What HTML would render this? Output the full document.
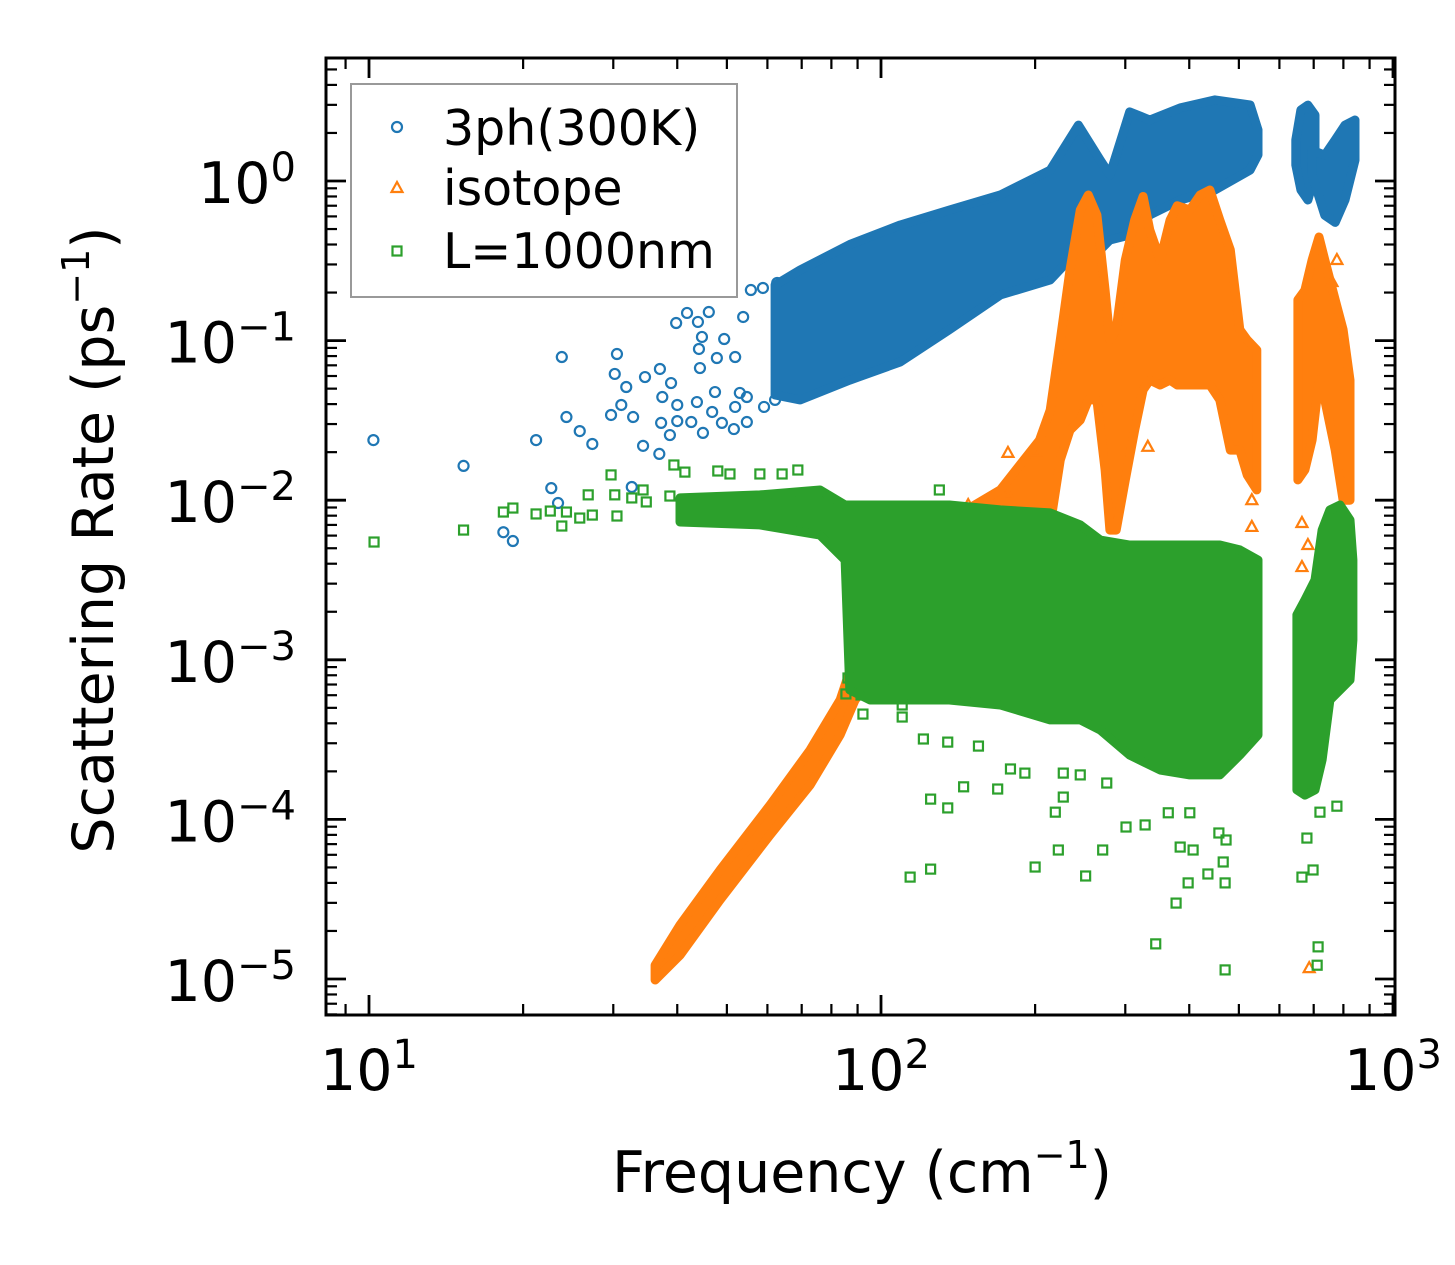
<!DOCTYPE html>
<html><head><meta charset="utf-8"><style>
html,body{margin:0;padding:0;background:#fff;}
svg{display:block;font-family:"DejaVu Sans","Liberation Sans",sans-serif;}
</style></head><body>
<svg id="chart" width="1455" height="1265" viewBox="0 0 1455 1265" xmlns="http://www.w3.org/2000/svg">
<rect x="0" y="0" width="1455" height="1265" fill="#fff"/>
<defs><clipPath id="plotclip"><rect x="326" y="58" width="1069" height="957"/></clipPath></defs>
<g id="marks" clip-path="url(#plotclip)"></g>
<g id="axes"></g>
<g id="legend">
  <rect x="351" y="84" width="386" height="213" fill="#fff" fill-opacity="0.8" stroke="#999" stroke-width="2"/>
  <circle cx="397" cy="127" r="5" fill="none" stroke="#1f77b4" stroke-width="2.2"/>
  <text x="443" y="145" font-size="49" fill="#000">3ph(300K)</text>
  <polygon points="397,182 402.5,192 391.5,192" fill="none" stroke="#ff7f0e" stroke-width="2.2"/>
  <text x="443" y="205" font-size="49" fill="#000">isotope</text>
  <rect x="392.5" y="246.5" width="9" height="9" fill="none" stroke="#2ca02c" stroke-width="2.2"/>
  <text x="443" y="268" font-size="49" fill="#000">L=1000nm</text>
</g>
<text x="862" y="1192" font-size="57" text-anchor="middle" fill="#000">Frequency (cm<tspan font-size="38" dy="-24">−1</tspan><tspan dy="24">)</tspan></text>
<text transform="translate(113,540) rotate(-90)" font-size="57" text-anchor="middle" fill="#000">Scattering Rate (ps<tspan font-size="38" dy="-24">−1</tspan><tspan dy="24">)</tspan></text>
</svg>
<script>
// ---- data ----
const blueSparseF = [10.2,15.3,18.3,19.1,21.2,22.7,23.4,23.8,24.3,25.8,27.3,29.7,30.2,30.5,31.1,31.8,32.6,32.8,34.3,34.6,36.9,37.0,37.2,37.4,38.7,38.9,39.8,40.0,40.0,41.8,42.6,43.7,43.9,44.1,44.3,44.7,44.9,46.1,46.8,47.4,47.8,48.9,49.4,51.6,51.9,51.9,53.0,53.8,54.7,54.7,55.7,58.8,59.1,62.1,62.7];
const blueSparseV = [0.0238,0.0164,0.0063,0.00555,0.0238,0.0119,0.0096,0.0789,0.0332,0.0271,0.0225,0.0342,0.0618,0.0824,0.0395,0.0512,0.0121,0.0332,0.0219,0.0591,0.0195,0.0664,0.0305,0.0443,0.0256,0.0542,0.1289,0.0395,0.0313,0.149,0.0309,0.0412,0.1309,0.0886,0.0673,0.1054,0.0264,0.151,0.0357,0.0476,0.0778,0.0305,0.1023,0.0279,0.0384,0.0789,0.047,0.1406,0.0309,0.0443,0.2075,0.2137,0.0384,0.0425,0.2296];
const blueBandF  = [62.1,69.5,86.9,109,136,171,214,243,268,280,306,335,384,449,526,545];
const blueBandHi = [0.223,0.277,0.40,0.53,0.658,0.817,1.17,2.24,1.354,1.09,2.71,2.41,2.87,3.22,3.0,2.09];
const blueBandLo = [0.0456,0.0425,0.0566,0.0734,0.117,0.193,0.24,0.37,0.37,0.427,0.459,0.612,0.76,0.878,1.17,1.46];
const blueBlobAF = [646,661,682,704];
const blueBlobAHi = [1.81,2.79,2.99,2.59];
const blueBlobALo = [1.26,0.88,0.76,1.09];
const blueBlobBF = [695,736,771,806,843];
const blueBlobBHi = [1.56,1.45,1.81,2.24,2.41];
const blueBlobBLo = [1.09,0.61,0.55,0.76,1.35];

const orangeBandF  = [36.2,40.5,48.5,60.7,72.7,83.2,89.0,95.2,109,136,171,204,214,224,234,245,254,264,274,280,288,300,313,325,335,351,367,379,401,420,439,459,481,502,519,542];
const orangeBandHi = [1.22e-5,2.18e-5,4.82e-5,1.23e-4,2.72e-4,5.6e-4,1.07e-3,2.37e-3,4.22e-3,7.52e-3,0.0116,0.0238,0.0367,0.101,0.277,0.658,0.817,0.612,0.207,0.101,0.117,0.32,0.57,0.80,0.493,0.32,0.57,0.70,0.658,0.817,0.878,0.57,0.37,0.117,0.101,0.0873];
const orangeBandLo = [9.86e-6,1.41e-5,3.13e-5,7.98e-5,1.64e-4,3.38e-4,5.6e-4,7.47e-4,1.33e-3,2.37e-3,0.00563,0.00699,0.00699,0.0179,0.0275,0.0318,0.0425,0.0425,0.0155,0.0065,0.0065,0.0134,0.0275,0.049,0.0566,0.0527,0.0566,0.0527,0.0527,0.0527,0.0527,0.0425,0.0206,0.0206,0.0144,0.0116];
const orangeSpikeF  = [652,673,695,717,736,771,799,824];
const orangeSpikeHi = [0.18,0.207,0.32,0.446,0.32,0.18,0.117,0.0566];
const orangeSpikeLo = [0.0134,0.0155,0.0238,0.0566,0.0425,0.0206,0.01,0.01];
const orangeSparseF = [177,200,177,148,332,777,760,664,682,664,530,530,813,686];
const orangeSparseV = [0.0198,0.0201,0.0108,0.00933,0.0216,0.32,0.233,0.00381,0.00524,0.0072,0.01,0.0068,0.0068,1.17e-5];

const greenBandF  = [40.5,58.0,76.0,85.1,86.9,95.2,109,136,171,214,245,268,306,351,401,459,502,545];
const greenBandHi = [0.01033,0.0108,0.01159,0.00933,0.00933,0.00933,0.00933,0.00933,0.00869,0.00832,0.0070,0.00563,0.00524,0.00524,0.00524,0.00524,0.00488,0.00422];
const greenBandLo = [0.0073,0.0070,0.00605,0.00422,0.000647,0.00056,0.00056,0.00056,0.000521,0.00042,0.00042,0.000363,0.000253,0.000204,0.00019,0.00019,0.000253,0.000338];
const greenBlobF  = [649,673,704,727,753,788,824,835];
const greenBlobHi = [0.00191,0.00237,0.00316,0.0065,0.00869,0.00933,0.00752,0.00422];
const greenBlobLo = [0.000153,0.000142,0.000153,0.000236,0.00056,0.000647,0.000747,0.00133];
const greenSparseF = [10.23,15.3,18.3,19.1,21.2,22.6,23.8,24.3,25.8,26.8,27.3,29.7,30.2,30.5,32.6,34.3,34.8,38.7,39.4,41.4,48.0,50.7,58.0,64.1,68.8,130,
 85.4,91.4,92.2,101,110,110,86.2,114,125,125,135,145,169,200,222,251,219,227,301,328,271,344,377,398,435,470,470,466,407,457,384,714,711,664,698,777,720,679,121,135,155,179,191,227,245,276,364,401,472,530];
const greenSparseV = [0.00547,0.0065,0.00843,0.00893,0.0082,0.00855,0.00689,0.00843,0.00773,0.0108,0.00807,0.0144,0.0108,0.00796,0.01033,0.01159,0.00975,0.01062,0.01662,0.0150,0.01524,0.0146,0.0146,0.0146,0.01546,0.01159,
 0.000611,0.000602,0.000457,0.000647,0.000521,0.000438,0.000769,0.0000435,0.0000488,0.000134,0.000118,0.00016,0.000155,0.0000503,0.0000643,0.0000442,0.000111,0.000138,0.0000896,0.0000923,0.0000643,0.0000166,0.0000299,0.00004,0.0000455,0.00004,0.0000114,0.0000541,0.0000643,0.0000822,0.0000671,0.0000159,0.0000122,0.0000435,0.0000482,0.000121,0.000111,0.0000764,0.000319,0.000305,0.000288,0.000207,0.000195,0.000195,0.00019,0.000169,0.00011,0.00011,0.0000743,0.000333];

const xMajorTicks = [10,100,1000];
const xMajorLabels = ["1","2","3"];
const yMajorTicks = [1,0.1,0.01,0.001,0.0001,0.00001];
const yMajorLabels = ["0","−1","−2","−3","−4","−5"];

// ---- scales ----
const X = f => 369 + 512*Math.log10(f/10);
const Y = v => 181 - 159.6*Math.log10(v);
const NS = "http://www.w3.org/2000/svg";
const marks = document.getElementById('marks');
const axes = document.getElementById('axes');
const BLUE="#1f77b4", ORANGE="#ff7f0e", GREEN="#2ca02c";

function band(F,Hi,Lo,color,name){
  const pts=[];
  for(let i=0;i<F.length;i++) pts.push(X(F[i]).toFixed(1)+","+Y(Hi[i]).toFixed(1));
  for(let i=F.length-1;i>=0;i--) pts.push(X(F[i]).toFixed(1)+","+Y(Lo[i]).toFixed(1));
  const p=document.createElementNS(NS,'polygon');
  p.setAttribute('points',pts.join(' '));
  p.setAttribute('fill',color);p.setAttribute('stroke',color);
  p.setAttribute('stroke-width','9');p.setAttribute('stroke-linejoin','round');
  
  
  marks.appendChild(p);
}
function circles(F,V,color){
  for(let i=0;i<F.length;i++){
    const c=document.createElementNS(NS,'circle');
    c.setAttribute('cx',X(F[i]));c.setAttribute('cy',Y(V[i]));c.setAttribute('r',5);
    c.setAttribute('fill','none');c.setAttribute('stroke',color);c.setAttribute('stroke-width','2.2');
    
    
    marks.appendChild(c);
  }
}
function squares(F,V,color){
  for(let i=0;i<F.length;i++){
    const r=document.createElementNS(NS,'rect');
    r.setAttribute('x',X(F[i])-4.5);r.setAttribute('y',Y(V[i])-4.5);r.setAttribute('width',9);r.setAttribute('height',9);
    r.setAttribute('fill','none');r.setAttribute('stroke',color);r.setAttribute('stroke-width','2.2');
    
    
    marks.appendChild(r);
  }
}
function triangles(F,V,color){
  for(let i=0;i<F.length;i++){
    const x=X(F[i]),y=Y(V[i]);
    const t=document.createElementNS(NS,'polygon');
    t.setAttribute('points',`${x},${y-6} ${x+5.5},${y+4} ${x-5.5},${y+4}`);
    t.setAttribute('fill','none');t.setAttribute('stroke',color);t.setAttribute('stroke-width','2.2');
    
    
    marks.appendChild(t);
  }
}
circles(blueSparseF,blueSparseV,BLUE);
band(blueBandF,blueBandHi,blueBandLo,BLUE,'3ph-dense-cloud');
band(blueBlobAF,blueBlobAHi,blueBlobALo,BLUE,'3ph-high-freq-cloud-a');
band(blueBlobBF,blueBlobBHi,blueBlobBLo,BLUE,'3ph-high-freq-cloud-b');
band(orangeBandF,orangeBandHi,orangeBandLo,ORANGE,'isotope-dense-cloud');
band(orangeSpikeF,orangeSpikeHi,orangeSpikeLo,ORANGE,'isotope-high-freq-cloud');
triangles(orangeSparseF,orangeSparseV,ORANGE);
band(greenBandF,greenBandHi,greenBandLo,GREEN,'boundary-dense-cloud');
band(greenBlobF,greenBlobHi,greenBlobLo,GREEN,'boundary-high-freq-cloud');
squares(greenSparseF,greenSparseV,GREEN);

// ---- axes ----
function line(x1,y1,x2,y2,w,name){
  const l=document.createElementNS(NS,'line');
  l.setAttribute('x1',x1);l.setAttribute('y1',y1);l.setAttribute('x2',x2);l.setAttribute('y2',y2);
  l.setAttribute('stroke','#000');l.setAttribute('stroke-width',w);
  
  
  axes.appendChild(l);
}
const L=326,R=1395,T=58,B=1015;
for(let d=1;d<=3;d++){
  for(let m=1;m<=9;m++){
    const fv=m*Math.pow(10,d);
    const x=X(fv);
    if(x<L||x>R+0.5) continue;
    const len=(m===1)?20:11, w=(m===1)?2.8:2.2;
    line(x,B,x,B-len,w,'x-tick');
    line(x,T,x,T+len,w,'x-tick-top');
  }
}
line(X(9),B,X(9),B-11,2.2,'x-tick');
line(X(9),T,X(9),T+11,2.2,'x-tick-top');
for(let d=-6;d<=0;d++){
  for(let m=1;m<=9;m++){
    const v=m*Math.pow(10,d);
    const y=Y(v);
    if(y<T||y>B) continue;
    const len=(m===1)?20:11, w=(m===1)?2.8:2.2;
    line(L,y,L+len,y,w,'y-tick');
    line(R,y,R-len,y,w,'y-tick-right');
  }
}
const fr=document.createElementNS(NS,'rect');
fr.setAttribute('x',L);fr.setAttribute('y',T);fr.setAttribute('width',R-L);fr.setAttribute('height',B-T);
fr.setAttribute('fill','none');fr.setAttribute('stroke','#000');fr.setAttribute('stroke-width','3');


axes.appendChild(fr);
function label(x,y,exp,anchor,name){
  const t=document.createElementNS(NS,'text');
  t.setAttribute('x',x);t.setAttribute('y',y);t.setAttribute('font-size','57');t.setAttribute('text-anchor',anchor);
  t.innerHTML='10<tspan font-size="40" dy="-22">'+exp+'</tspan>';
  
  
  axes.appendChild(t);
}
xMajorTicks.forEach((f,i)=>label(X(f),1090,xMajorLabels[i],'middle','x-tick-label'));
yMajorTicks.forEach((v,i)=>label(296,Y(v)+22,yMajorLabels[i],'end','y-tick-label'));
</script>
</body></html>
